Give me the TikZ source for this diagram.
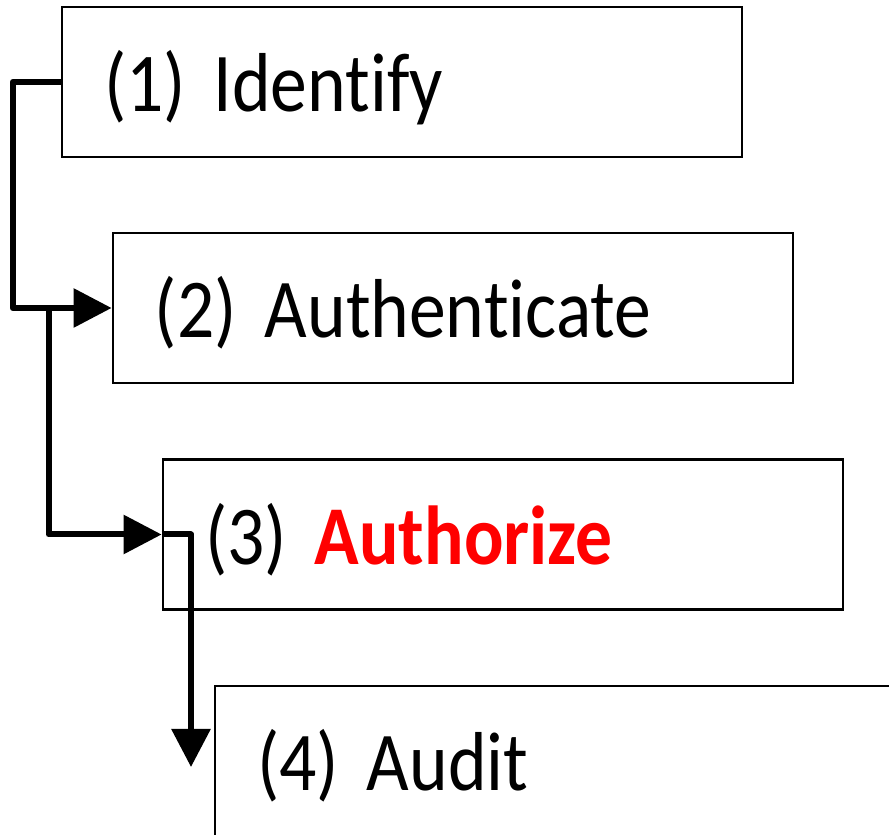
\documentclass[tikz,border=0pt]{standalone}
\usepackage{fontspec}
\setmainfont{Carlito}[Ligatures=NoCommon, FakeStretch=0.88]
\usetikzlibrary{arrows.meta,calc}
\definecolor{stepred}{RGB}{255,0,0}
\newcommand{\stagefont}{\fontsize{23.8}{28}\selectfont\spaceskip=0.13em\relax}

\begin{document}
\begin{tikzpicture}[
    stagebox/.style={draw, line width=0.8pt, rectangle, minimum width=6.8cm,
      minimum height=1.5cm, text width=5.96cm, inner xsep=0.42cm, align=left,
      text height=0.75cm, text depth=0.15cm, font=\stagefont},
    flow/.style={line width=0.06cm, line join=round,
      -{Triangle[length=0.38cm, width=0.38cm]}}
  ]
    \useasboundingbox (0,0) rectangle (8.89,-8.35);
    \clip (0,0) rectangle (8.89,-8.35);
    % Boxes
    \node[stagebox] (identify)     at (4.02,-0.82)  {(1) Identify};
    \node[stagebox] (authenticate) at (4.53,-3.08)  {(2) Authenticate};
    \node[stagebox] (authorize)    at (5.03,-5.345) {(3) \textcolor{stepred}{\bfseries Authorize}};
    \node[stagebox] (audit)        at (5.55,-7.61)  {(4) Audit};
    % Connectors
    \draw[flow] (identify.west) -- ++(-0.48,0) coordinate (bend1) |- (authenticate.west);
    \coordinate (split) at ($(bend1 |- authenticate.west) + (0.36,0)$);
    \draw[flow] (split) |- (authorize.west);
    \coordinate (auditin) at (1.91,-7.67);
    \draw[flow] (authorize.west) -| (auditin);
  \end{tikzpicture}
\end{document}
